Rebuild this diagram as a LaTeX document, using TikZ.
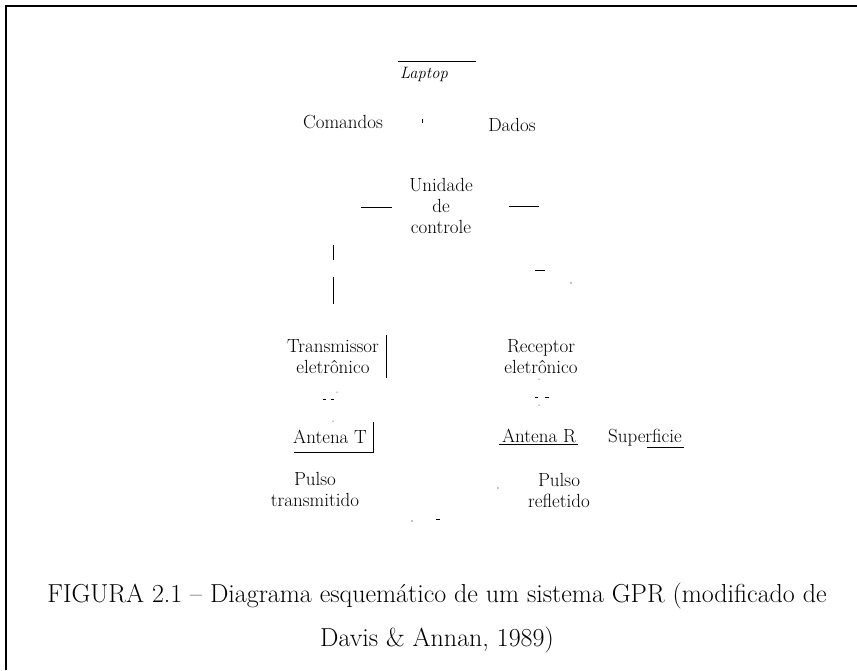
\documentclass[tikz,border=0pt]{standalone}
\usepackage{fontspec}
\usepackage{tikz}

\tikzset{
  lbl/.style={align=center, inner sep=1pt, font=\fontsize{19}{21}\selectfont},
  frag/.style={line width=1pt},
  caption/.style={align=center, inner sep=0pt, font=\fontsize{26}{44}\selectfont}
}

\begin{document}
\begin{tikzpicture}[x=1pt,y=-1pt]
    \useasboundingbox (0,0) rectangle (857,670);

    % frame
    \draw[line width=2pt] (6,670) -- (6,6) -- (857,6);

    % Laptop
    \node[lbl, font=\fontsize{16.5}{18}\selectfont\itshape] (laptop) at (424,74) {Laptop};
    \draw[frag] (398,61) -- (476,61);

    % Comandos / Dados
    \node[lbl] (cmd) at (343,122) {Comandos};
    \node[lbl] (dados) at (512,125) {Dados};
    \draw[frag] (422,119) -- (422,123);

    % Unidade de controle
    \node[lbl] (unid) at (441,206) {Unidade\\de\\controle};
    \draw[frag] (361,207) -- (392,207);
    \draw[frag] (509,206) -- (539,206);

    % broken lines below the control unit
    \draw[frag] (333,245) -- (333,260);
    \draw[frag] (333,277) -- (333,304);
    \draw[frag] (535,270) -- (545,270);
    \fill (571,283) circle (0.6);

    % Transmissor / Receptor
    \node[lbl] (trans) at (333,357) {Transmissor\\eletrônico};
    \node[lbl] (recep) at (541,357) {Receptor\\eletrônico};
    \draw[frag] (386,335) -- (386,378);

    % dashes between the electronics and the antennas
    \draw[frag] (323,399) -- (326,399) (331,399) -- (334,399);
    \fill (337,392) circle (0.5);
    \fill (333,421) circle (0.5);
    \draw[frag] (535,397) -- (538,397) (545,397) -- (549,397);
    \fill (539,379) circle (0.5);
    \fill (539,405) circle (0.5);

    % Antennas
    \node[lbl] (antT) at (330,437) {Antena T};
    \node[lbl] (antR) at (539,436) {Antena R};
    \node[lbl] (surf) at (645,438) {Superficie};
    \draw[frag] (294,452) -- (373,452) -- (373,422);
    \draw[frag] (499,444) -- (578,444);
    \draw[frag] (647,447) -- (684,447);

    % Pulses
    \node[lbl] (pulT) at (315,489) {Pulso\\transmitido};
    \node[lbl] (pulR) at (559,490) {Pulso\\refletido};
    \fill (498,488) circle (0.6);
    \fill (412,521) circle (0.6);
    \draw[frag] (436,519) -- (440,519);

    % caption
    \node[caption] (cap) at (437,618) {FIGURA 2.1 -- Diagrama esquemático de um sistema GPR (modificado de\\Davis \& Annan, 1989)};
\end{tikzpicture}
\end{document}
